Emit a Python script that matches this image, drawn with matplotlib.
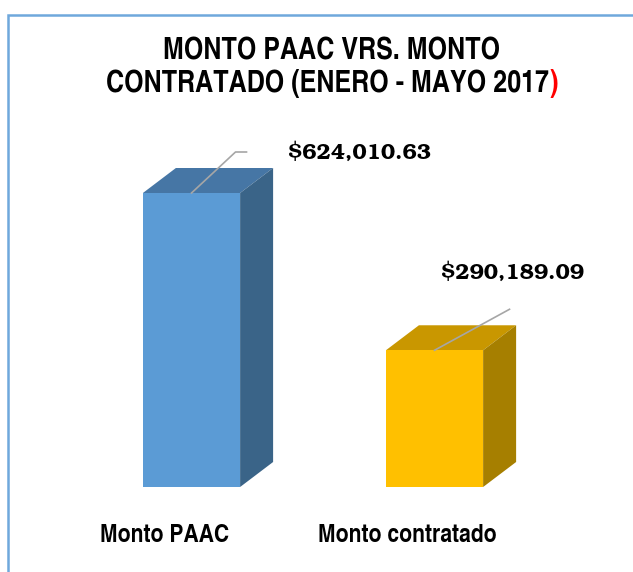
import matplotlib
matplotlib.use("Agg")
import matplotlib.pyplot as plt
import matplotlib.transforms as mtransforms
from matplotlib.patches import Polygon, Rectangle

# Datos del grafico
categorias = ["Monto PAAC", "Monto contratado"]
montos = [624010.63, 290189.09]
etiquetas = ["$624,010.63", "$290,189.09"]

color_frente = ["#5B9BD5", "#FFC000"]
color_arriba = ["#4676A5", "#C99700"]
color_lado = ["#3A6488", "#A67F00"]

narrow = ["TeX Gyre Heros Cn", "DejaVu Sans"]
serif = ["TeX Gyre Bonum", "DejaVu Serif"]

fig = plt.figure(figsize=(6.33, 5.72), dpi=100)
W, H = 633, 572

# marco azul claro
fig.patches.append(Rectangle((8 / W, -0.1), 1.2, (H - 15) / H + 0.1, transform=fig.transFigure,
                             fill=False, edgecolor="#6FA8DC", linewidth=1.8))

# ejes en pixeles: x 70..600, y 140..487 (desde arriba)
ax = fig.add_axes([70 / W, (H - 487) / H, 530 / W, 347 / H])
ax.set_xlim(-0.5, 1.681)
ax.set_ylim(0, 736500)
ax.axis("off")

ancho = 0.4
px_x = 243.0                 # pixeles por unidad x
px_y = 294.0 / 624010.0      # pixeles por unidad y
prof_x = 33 / px_x
prof_y = 25 / px_y

x = list(range(len(categorias)))
ax.bar(x, montos, width=ancho, color=color_frente, zorder=3)
for i, v in enumerate(montos):
    izq, der = i - ancho / 2, i + ancho / 2
    ax.add_patch(Polygon([(izq, v), (der, v), (der + prof_x, v + prof_y), (izq + prof_x, v + prof_y)],
                         closed=True, facecolor=color_arriba[i], edgecolor="none", zorder=2))
    ax.add_patch(Polygon([(der, 0), (der + prof_x, prof_y), (der + prof_x, v + prof_y), (der, v)],
                         closed=True, facecolor=color_lado[i], edgecolor="none", zorder=2))

fig.canvas.draw()
ident = mtransforms.IdentityTransform()

# lineas guia y etiquetas (offsets en pixeles)
guias = [[(0, 0), (44, 41), (55, 41)], [(0, 0), (75, 41)]]
pos_texto = [(96, 40, "left"), (78, 77, "center")]
for i, v in enumerate(montos):
    ax0, ay0 = ax.transData.transform((i, v))
    xs = [ax0 + p[0] for p in guias[i]]
    ys = [ay0 + p[1] for p in guias[i]]
    ax.plot(xs, ys, color="#A6A6A6", linewidth=1.2, transform=ident, zorder=4, clip_on=False)
    dx, dy, ha = pos_texto[i]
    ax.text(ax0 + dx, ay0 + dy, etiquetas[i], transform=ident, ha=ha, va="center",
            family=serif, fontweight="bold", fontsize=15.5, zorder=5)

# etiquetas de categoria
for i, c in enumerate(categorias):
    cx, cy = ax.transData.transform((i, 0))
    fig.text((cx - 27) / W, (H - 535) / H, c, ha="center", va="center",
             family=narrow, fontweight="bold", fontsize=18.5)

# titulo
fig.text(332 / W, (H - 51) / H, "MONTO PAAC VRS. MONTO", ha="center", va="center",
         family=narrow, fontweight="bold", fontsize=22)
t2 = fig.text(328 / W, (H - 83) / H, "CONTRATADO (ENERO - MAYO 2017", ha="center", va="center",
              family=narrow, fontweight="bold", fontsize=22)
fig.text(0, 0, ")", color="red", family=narrow, fontweight="bold", fontsize=22,
         ha="left", va="center")
fig.canvas.draw()
bb = t2.get_window_extent()
fig.texts[-1].set_position((bb.x1 / W, (H - 83) / H))

fig.savefig("out.png", dpi=100)
